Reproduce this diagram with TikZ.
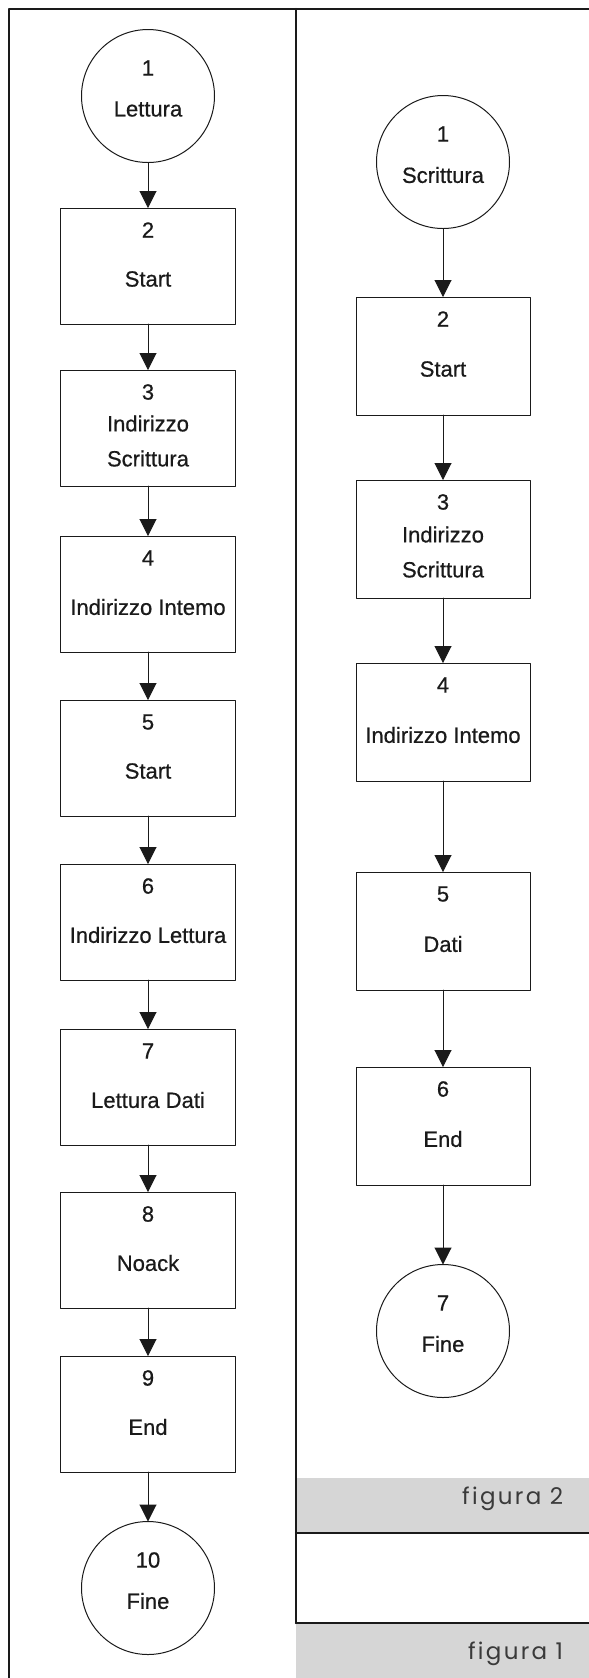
\documentclass[tikz,border=0pt]{standalone}
\usepackage{fontspec}
\setmainfont{Liberation Sans}
\newfontfamily\stepfont[FakeBold=0.6]{Liberation Sans}
\newfontfamily\figfont[LetterSpace=10]{Poppins}
\usetikzlibrary{arrows.meta,positioning,calc}
\definecolor{gInk}{HTML}{1A1A1A}
\definecolor{gBand}{HTML}{D6D6D6}
\definecolor{gCap}{HTML}{3A3A3A}
\tikzset{
  flowPic/.style={
    x=0.5pt, y=-0.5pt,
    font=\stepfont\fontsize{11}{17.5}\selectfont,
    every node/.style={inner sep=0pt, outer sep=0pt},
    line cap=round, line join=round,
  },
  stepBox/.style={
    draw=gInk, line width=0.5pt, fill=white, anchor=north,
    minimum width=87.5pt, minimum height=58pt,
  },
  stepEnd/.style={
    draw=gInk, line width=0.5pt, fill=white, circle,
    minimum size=66.5pt,
  },
  stepNum/.style={text=gInk},
  stepLab/.style={text=gInk, align=center},
  flow/.style={-{Triangle[length=8.5pt, width=8.5pt]}, gInk, line width=0.5pt},
  frameLine/.style={gInk, line width=1.2pt},
  capBand/.style={fill=gBand, draw=none},
  capText/.style={font=\figfont\fontsize{11.5}{13}\selectfont, text=gCap, anchor=base east},
}

\begin{document}
\begin{tikzpicture}[flowPic]
\useasboundingbox (0,0) rectangle (589,1678);

% ============================================================
% caption bands and page frames
% ============================================================
\fill[capBand] (296,1478) rectangle (589,1533);
\fill[capBand] (296,1623) rectangle (589,1678);
\node[capText] (cap2) at (563,1504) {figura 2};
\node[capText] (cap1) at (563,1659) {figura 1};

\draw[frameLine] (9,1678) -- (9,9) -- (589,9);
\draw[frameLine] (296,9) -- (296,1623);
\draw[frameLine] (296,1533) -- (589,1533);
\draw[frameLine] (296,1623) -- (589,1623);

% ============================================================
% LEFT: lettura (figura 1)
% ============================================================
\def\xL{148}

\node[stepEnd] (l1) at (\xL,96) {};
\node[stepNum] (l1-n) at ($(l1.center)+(0,-28)$) {1};
\node[stepLab] (l1-t) at ($(l1.center)+(0,13)$) {Lettura};

\foreach \nm/\ty/\num/\lab in {l2/208/2/Start, l3/370/3/Indirizzo\\Scrittura,
    l4/536/4/Indirizzo Intemo, l5/700/5/Start, l6/864/6/Indirizzo Lettura,
    l7/1029/7/Lettura Dati, l8/1192/8/Noack, l9/1356/9/End} {
  \node[stepBox] (\nm) at (\xL,\ty) {};
  \node[stepNum] (\nm-n) at ($(\nm.north)+(0,22)$) {\num};
  \node[stepLab] (\nm-t) at ($(\nm.north)+(0,71)$) {\lab};
}

\node[stepEnd] (l10) at (\xL,1588) {};
\node[stepNum] (l10-n) at ($(l10.center)+(0,-28)$) {10};
\node[stepLab] (l10-t) at ($(l10.center)+(0,13)$) {Fine};

\foreach \a/\b in {l1/l2, l2/l3, l3/l4, l4/l5, l5/l6, l6/l7, l7/l8, l8/l9, l9/l10}
  \draw[flow] (\a.south) -- (\b.north);

% ============================================================
% RIGHT: scrittura (figura 2)
% ============================================================
\def\xR{443}

\node[stepEnd] (r1) at (\xR,162) {};
\node[stepNum] (r1-n) at ($(r1.center)+(0,-28)$) {1};
\node[stepLab] (r1-t) at ($(r1.center)+(0,13)$) {Scrittura};

\foreach \nm/\ty/\num/\lab in {r2/297/2/Start, r3/480/3/Indirizzo\\Scrittura,
    r4/663/4/Indirizzo Intemo, r5/872/5/Dati, r6/1067/6/End} {
  \node[stepBox, minimum width=87pt, minimum height=59pt] (\nm) at (\xR,\ty) {};
  \node[stepNum] (\nm-n) at ($(\nm.north)+(0,22)$) {\num};
  \node[stepLab] (\nm-t) at ($(\nm.north)+(0,72)$) {\lab};
}

\node[stepEnd] (r7) at (\xR,1331) {};
\node[stepNum] (r7-n) at ($(r7.center)+(0,-28)$) {7};
\node[stepLab] (r7-t) at ($(r7.center)+(0,13)$) {Fine};

\foreach \a/\b in {r1/r2, r2/r3, r3/r4, r4/r5, r5/r6, r6/r7}
  \draw[flow] (\a.south) -- (\b.north);

\end{tikzpicture}
\end{document}
